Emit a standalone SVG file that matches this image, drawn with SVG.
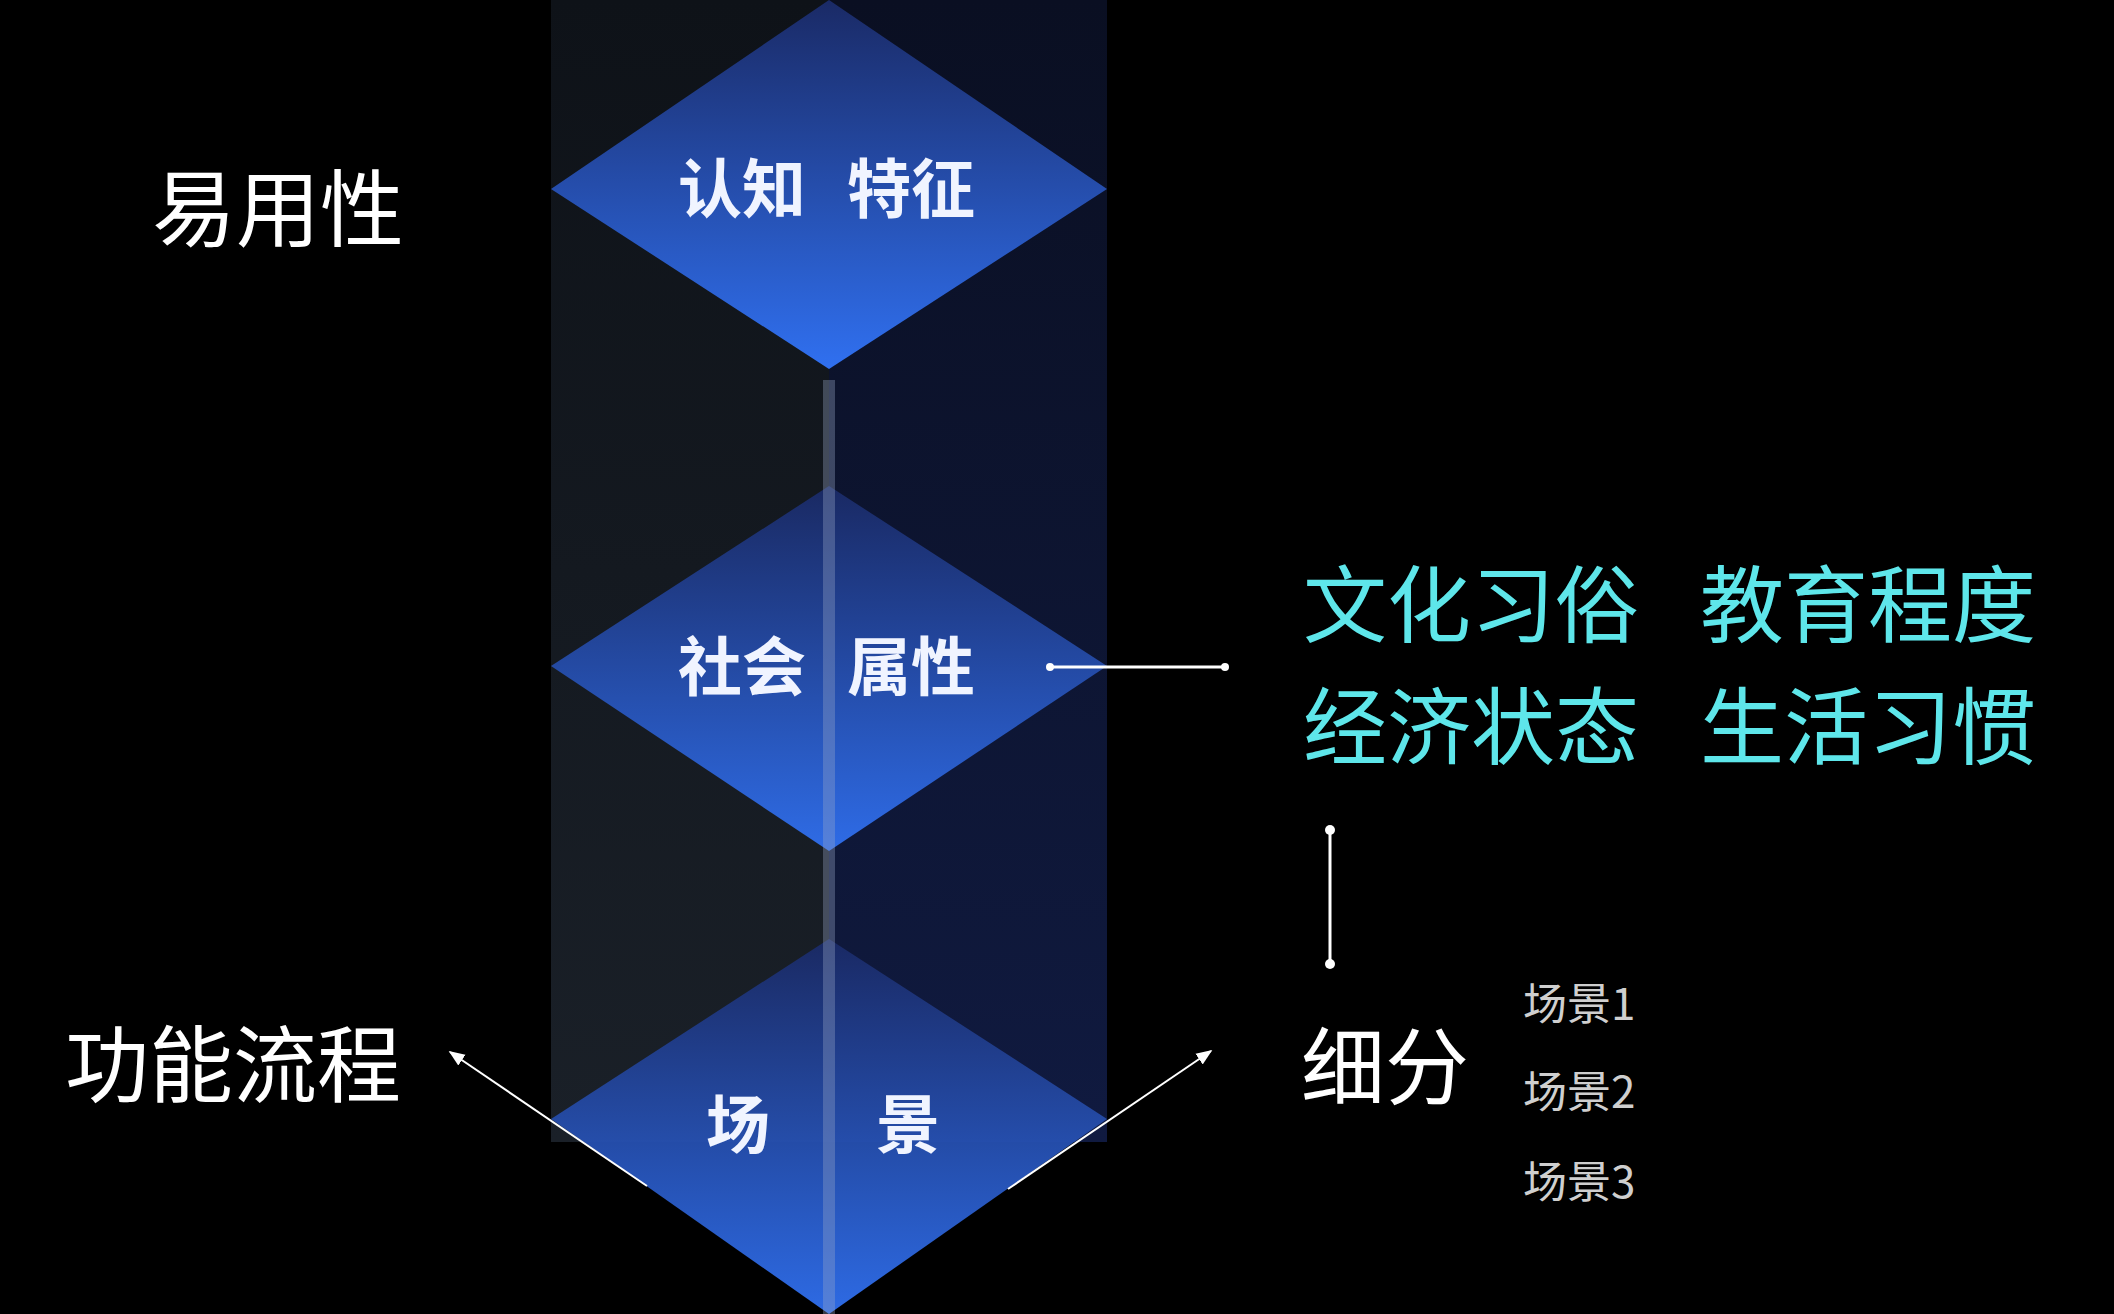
<svg xmlns="http://www.w3.org/2000/svg" width="2114" height="1314" viewBox="0 0 2114 1314">
<defs>
<linearGradient id="dg" x1="0" y1="0" x2="0" y2="1"><stop offset="0" stop-color="#1a2a66"/><stop offset="1" stop-color="#3070f0"/></linearGradient>
<linearGradient id="cl" x1="0" y1="0" x2="0" y2="1"><stop offset="0" stop-color="#0e1218"/><stop offset="1" stop-color="#1a2028"/></linearGradient>
<linearGradient id="cr" x1="0" y1="0" x2="0" y2="1"><stop offset="0" stop-color="#0a0f22"/><stop offset="1" stop-color="#101a40"/></linearGradient>
<marker id="ar" viewBox="0 0 10 10" refX="9" refY="5" markerWidth="8" markerHeight="8" orient="auto"><path d="M0,1 L10,5 L0,9 z" fill="#fff"/></marker>
</defs>
<style>
.w{font-family:"Noto Sans CJK SC",sans-serif;fill:#fff}
.b{font-family:"Noto Sans CJK SC",sans-serif;fill:#f0f4ff;font-weight:bold;font-size:64px}
.c{font-family:"Noto Sans CJK SC",sans-serif;fill:#5ee6ea;font-size:84px}
.g{font-family:"Noto Sans CJK SC",sans-serif;fill:#cfcfcf;font-size:44px}
.ln{stroke:#fff;stroke-width:3;fill:none}
.dm{fill:url(#dg)}
</style>
<rect width="2114" height="1314" fill="#000"/>
<g id="column">
<rect x="551" y="0" width="278" height="1142" fill="url(#cl)"/>
<rect x="829" y="0" width="278" height="1142" fill="url(#cr)"/>
</g>
<g id="d1"><polygon class="dm" points="829,0 1107,189 829,369 551,189"/>
<text class="b" x="806" y="212" text-anchor="end">认知</text><text class="b" x="847" y="212">特征</text></g>
<g id="d2"><polygon class="dm" points="829,486 1107,666 829,851 551,666" opacity="0.95"/>
<text class="b" x="806" y="690" text-anchor="end">社会</text><text class="b" x="847" y="690">属性</text></g>
<g id="d3"><polygon class="dm" points="829,939 1107,1119 829,1314 551,1119" opacity="0.95"/>
<text class="b" x="706" y="1148">场</text><text class="b" x="876" y="1148" font-weight="normal">景</text></g>
<rect x="823" y="380" width="12" height="934" fill="#9aa8c8" opacity="0.35"/>
<g id="labels">
<text class="w" x="152" y="240" font-size="84">易用性</text>
<text class="w" x="65" y="1096" font-size="84">功能流程</text>
<text class="w" x="1301" y="1098" font-size="84">细分</text>
<text class="c" x="1303" y="636">文化习俗</text><text class="c" x="1700" y="636">教育程度</text>
<text class="c" x="1303" y="758">经济状态</text><text class="c" x="1700" y="758">生活习惯</text>
<text class="g" x="1523" y="1020">场景1</text>
<text class="g" x="1523" y="1108">场景2</text>
<text class="g" x="1523" y="1198">场景3</text>
</g>
<g id="connectors">
<line class="ln" x1="1050" y1="667" x2="1225" y2="667"/><circle cx="1050" cy="667" r="4" fill="#fff"/><circle cx="1225" cy="667" r="4" fill="#fff"/>
<line class="ln" x1="1330" y1="830" x2="1330" y2="964"/><circle cx="1330" cy="830" r="5" fill="#fff"/><circle cx="1330" cy="964" r="5" fill="#fff"/>
<line stroke="#fff" stroke-width="2" x1="647" y1="1186" x2="450" y2="1052" marker-end="url(#ar)"/>
<line stroke="#fff" stroke-width="2" x1="1008" y1="1189" x2="1211" y2="1051" marker-end="url(#ar)"/>
</g>
</svg>
